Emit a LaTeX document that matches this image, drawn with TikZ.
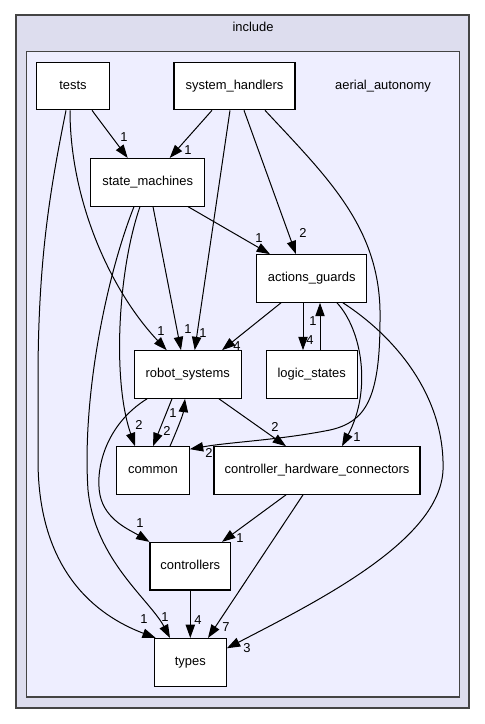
\documentclass[tikz,border=0pt]{standalone}
\usepackage{fontspec}
\setmainfont{Liberation Sans}
\usetikzlibrary{arrows.meta,calc}
\definecolor{outerfill}{HTML}{DDDDEE}
\definecolor{innerfill}{HTML}{EEEEFF}
\definecolor{frameline}{HTML}{444444}

\begin{document}
\begin{tikzpicture}[x=0.75pt,y=-0.75pt,
	dirbox/.style={draw=black,line width=0.8pt,fill=white,minimum height=35.7pt,inner sep=0pt,text height=7pt,text depth=2pt,font=\fontsize{9.7}{11.6}\selectfont},
	dep/.style={line width=0.75pt,-{Triangle[length=10pt,width=7pt]}},
	cnt/.style={inner sep=0pt,font=\fontsize{9.7}{11.6}\selectfont}]
		\useasboundingbox (0,0) rectangle (485,724);
		\draw[frameline,line width=1.1pt,fill=outerfill] (16,15) rectangle (469,708);
		\draw[frameline,line width=1.1pt,fill=innerfill] (26.7,51.7) rectangle (459.3,697);
		\node[cnt] (inc) at (253,27) {include};
		\node[cnt] (aer) at (383,86) {aerial\_autonomy};
		\node[dirbox,minimum width=54.5pt] (tests) at (73,86) {tests};
		\node[dirbox,minimum width=90.75pt] (syshand) at (234.5,86) {system\_handlers};
		\node[dirbox,minimum width=85.5pt] (statemach) at (147.7,182.3) {state\_machines};
		\node[dirbox,minimum width=82.5pt] (actguard) at (311.7,278.5) {actions\_guards};
		\node[dirbox,minimum width=80.5pt] (robsys) at (187.7,374.5) {robot\_systems};
		\node[dirbox,minimum width=68.5pt] (logic) at (311.7,374.5) {logic\_states};
		\node[dirbox,minimum width=54.5pt] (common) at (153,470.5) {common};
		\node[dirbox,minimum width=154.5pt] (chwconn) at (317,470.5) {controller\_hardware\_connectors};
		\node[dirbox,minimum width=60.5pt] (controllers) at (190.3,566.2) {controllers};
		\node[dirbox,minimum width=54pt] (types) at (190.3,662.3) {types};
		\draw[dep] ($(tests.south)+(19,0)$) -- ($(statemach.north)+(-20,0)$);
		\draw[dep] ($(syshand.south)+(-22.5,0)$) -- ($(statemach.north)+(22,0)$);
		\draw[dep] ($(tests.south)+(-3,0)$) .. controls (70,200) and (110,290) .. ($(robsys.north)+(-21,0)$);
		\draw[dep] ($(tests.south)+(-7,0)$) .. controls (50,190) and (38,260) .. (38,380) -- (38,460) .. controls (38,570) and (95,615) .. ($(types.north west)+(2,0)$);
		\draw[dep] ($(syshand.south)+(-4.5,0)$) -- ($(robsys.north)+(7,0)$);
		\draw[dep] ($(syshand.south)+(9.5,0)$) -- ($(actguard.north)+(-15.7,0)$);
		\draw[dep] ($(syshand.south)+(30.5,0)$) .. controls (330,180) and (382,230) .. (380,320) .. controls (380,400) and (365,422) .. (330,430) .. controls (280,440) and (230,442) .. ($(common.north east)+(0,3)$);
		\draw[dep] ($(statemach.south)+(40.3,0)$) -- ($(actguard.north)+(-41.7,0)$);
		\draw[dep] ($(statemach.south)+(5.3,0)$) -- ($(robsys.north)+(-6.7,0)$);
		\draw[dep] ($(statemach.south)+(-7.7,0)$) .. controls (118,270) and (112,380) .. ($(common.north)+(-18,0)$);
		\draw[dep] ($(statemach.south)+(-13.7,0)$) .. controls (105,280) and (82,400) .. (88,490) .. controls (95,560) and (150,600) .. ($(types.north)+(-20.3,0)$);
		\draw[dep] ($(robsys.south)+(-40.7,0)$) .. controls (105,425) and (95,470) .. (100,495) .. controls (105,520) and (130,530) .. (controllers.north west);
		\draw[dep] ($(actguard.south)+(-30.7,0)$) -- ($(robsys.north)+(34.3,0)$);
		\draw[dep] ($(actguard.south)+(-8.7,0)$) -- ($(logic.north)+(-8.7,0)$);
		\draw[dep] ($(logic.north)+(8.3,0)$) -- ($(actguard.south)+(8.3,0)$);
		\draw[dep] ($(actguard.south)+(25.3,0)$) .. controls (362,330) and (372,390) .. ($(chwconn.north)+(25,0)$);
		\draw[dep] ($(actguard.south)+(31.3,0)$) .. controls (400,340) and (445,400) .. (443,470) .. controls (440,540) and (320,600) .. ($(types.east)+(0,-14)$);
		\draw[dep] ($(robsys.south)+(-15.7,0)$) -- (common.north);
		\draw[dep] ($(common.north)+(17,0)$) .. controls (177,430) and (183,415) .. ($(robsys.south)+(-2.7,0)$);
		\draw[dep] ($(robsys.south)+(31.3,0)$) -- ($(chwconn.north)+(-31,0)$);
		\draw[dep] ($(chwconn.south)+(-31,0)$) -- ($(controllers.north)+(31.7,0)$);
		\draw[dep] ($(chwconn.south)+(-14,0)$) -- ($(types.north)+(17.7,0)$);
		\draw[dep] (controllers) -- (types);
		\node[cnt] (c-ts) at (124,137) {1};
		\node[cnt] (c-hs) at (188,150) {1};
		\node[cnt] (c-sa) at (259,238) {1};
		\node[cnt] (c-ha) at (303,233) {2};
		\node[cnt] (c-tr) at (161,331) {1};
		\node[cnt] (c-sr) at (188,329) {1};
		\node[cnt] (c-hr) at (203,333) {1};
		\node[cnt] (c-ar) at (237,346) {4};
		\node[cnt] (c-la) at (313,321) {1};
		\node[cnt] (c-al) at (310,340) {4};
		\node[cnt] (c-sc) at (139,425) {2};
		\node[cnt] (c-rc) at (167,431) {2};
		\node[cnt] (c-cr) at (173,413) {1};
		\node[cnt] (c-rh) at (275,427) {2};
		\node[cnt] (c-ah) at (357,437) {1};
		\node[cnt] (c-hc) at (209,453) {2};
		\node[cnt] (c-ro) at (140,523) {1};
		\node[cnt] (c-ho) at (240,538) {1};
		\node[cnt] (c-tt) at (144,619) {1};
		\node[cnt] (c-st) at (165,617) {1};
		\node[cnt] (c-ot) at (198,620) {4};
		\node[cnt] (c-ht) at (226,627) {7};
		\node[cnt] (c-at) at (247,648) {3};
		\end{tikzpicture}
\end{document}
